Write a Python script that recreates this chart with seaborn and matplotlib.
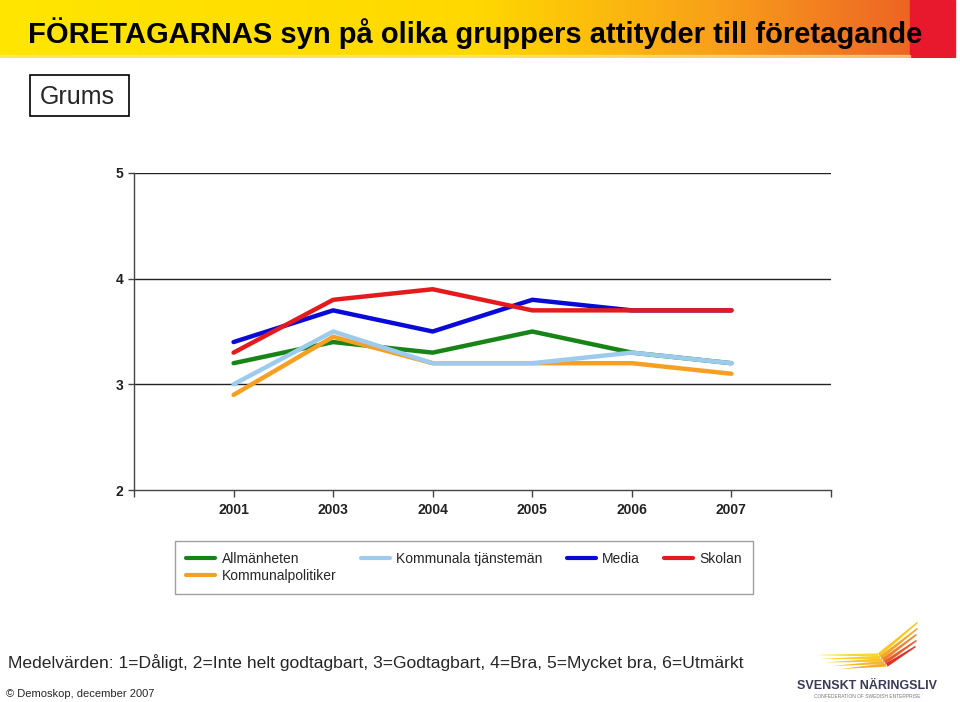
import numpy as np
import pandas as pd
import matplotlib.pyplot as plt
import seaborn as sns
from matplotlib.patches import Rectangle, Polygon

# 年度（カテゴリ）
years = ["2001", "2003", "2004", "2005", "2006", "2007"]

# 各グループの平均値
allmanheten = [3.2, 3.4, 3.3, 3.5, 3.3, 3.2]
kommunalpolitiker = [2.9, 3.45, 3.2, 3.2, 3.2, 3.1]
kommunala_tjm = [3.0, 3.5, 3.2, 3.2, 3.3, 3.2]
media = [3.4, 3.7, 3.5, 3.8, 3.7, 3.7]
skolan = [3.3, 3.8, 3.9, 3.7, 3.7, 3.7]

groups = ["Allmänheten", "Kommunalpolitiker", "Kommunala tjänstemän", "Media", "Skolan"]
colors = ["#188418", "#F5A023", "#9DCBEE", "#0A0AD8", "#E41A1C"]

df = pd.DataFrame({
    "År": years * 5,
    "Grupp": np.repeat(groups, len(years)),
    "Värde": allmanheten + kommunalpolitiker + kommunala_tjm + media + skolan,
})

sns.set_theme(style="white")
plt.rcParams["font.family"] = ["Liberation Sans", "DejaVu Sans"]

fig = plt.figure(figsize=(9.6, 7.02), dpi=100)

# ヘッダーのグラデーション
hax = fig.add_axes([0, 1 - 58 / 702, 1, 58 / 702])
grad = np.linspace(0, 1, 512)
cmap = plt.matplotlib.colors.LinearSegmentedColormap.from_list(
    "hdr", [(0, "#FFE600"), (0.5, "#FFD800"), (0.75, "#F9A019"), (0.92, "#EF6E24"), (1, "#EA5A22")]
)
hax.imshow(grad[None, :], aspect="auto", cmap=cmap, extent=[0, 955, 0, 58])
hax.add_patch(Rectangle((910, 0), 45, 58, color="#E8192C"))
hax.add_patch(Rectangle((0, 0), 910, 3, color="#FFE98A", alpha=0.6))
hax.set_xlim(0, 960)
hax.set_ylim(0, 58)
hax.axis("off")
fig.text(28 / 960, 1 - 33 / 702, "FÖRETAGARNAS syn på olika gruppers attityder till företagande",
         fontsize=21, fontweight="bold", va="center", ha="left", color="black")

# Grums ボックス
fig.add_artist(Rectangle((30 / 960, 1 - 116 / 702), 99 / 960, 41 / 702,
                         transform=fig.transFigure, fc="white", ec="black", lw=1.2))
fig.text(40 / 960, 1 - 97 / 702, "Grums", fontsize=18, va="center", ha="left")

# 折れ線グラフ
ax = fig.add_axes([134 / 960, 1 - 490 / 702, 697 / 960, 317 / 702])
sns.lineplot(
    data=df, x="År", y="Värde", hue="Grupp", hue_order=groups,
    palette=colors, linewidth=3.2, ax=ax, sort=False, legend=False
)
ax.set_xlim(-1, 6)
ax.set_ylim(2, 5)
ax.set_xticks(range(-1, 7))
ax.set_xticklabels([""] + years + [""])
ax.set_yticks([2, 3, 4, 5])
ax.set_yticklabels(["2", "3", "4", "5"])
ax.set_xlabel("")
ax.set_ylabel("")
for y in [3, 4, 5]:
    ax.axhline(y, color="#222222", lw=1.0, zorder=0)
for s in ["top", "right"]:
    ax.spines[s].set_visible(False)
for s in ["left", "bottom"]:
    ax.spines[s].set_color("#444444")
    ax.spines[s].set_linewidth(1.0)
ax.tick_params(axis="x", direction="out", length=5, width=1, color="#444444",
               labelsize=10, pad=4, bottom=True)
ax.tick_params(axis="y", direction="out", length=4, width=1, color="#444444",
               labelsize=10, left=True)
for lab in ax.get_yticklabels() + ax.get_xticklabels():
    lab.set_fontweight("bold")
    lab.set_color("#222222")

# 凡例
handles = [plt.Line2D([], [], color=c, lw=3) for c in colors]
leg = fig.legend(
    handles, groups, ncol=4, loc="upper left",
    bbox_to_anchor=(175 / 960, 1 - 541 / 702), borderaxespad=0, fontsize=10,
    frameon=True, fancybox=False, edgecolor="#888888",
    handlelength=2.1, handletextpad=0.45, columnspacing=1.75,
    borderpad=0.8, labelspacing=0.22,
)
leg.get_frame().set_linewidth(1.0)

# 下部の説明
fig.text(8 / 960, 1 - 663 / 702,
         "Medelvärden: 1=Dåligt, 2=Inte helt godtagbart, 3=Godtagbart, 4=Bra, 5=Mycket bra, 6=Utmärkt",
         fontsize=12.6, va="center", ha="left")
fig.text(6 / 960, 1 - 694 / 702, "© Demoskop, december 2007", fontsize=8, va="center", ha="left")

# ロゴ（簡易）
lax = fig.add_axes([790 / 960, 0, 170 / 960, 90 / 702])
lax.set_xlim(0, 170)
lax.set_ylim(0, 90)
lax.axis("off")
left_cols = ["#FAD82A", "#F9CF26", "#F8C426", "#F7B82A", "#F6AC2C"]
right_cols = ["#F9C623", "#F6A52B", "#F2812E", "#EC5A2C", "#E0302A"]
lefts = [(25, 47), (30, 43), (35, 39.5), (42, 36), (50, 33)]
joints = [(88, 47), (90, 44.5), (92, 42), (94, 39.5), (96, 37)]
rights = [(128, 80), (128, 74), (127, 68), (127, 62), (126, 56)]
w = 3.4
for i in range(5):
    lx, ly = lefts[i]
    jx, jy = joints[i]
    rx, ry = rights[i]
    lax.add_patch(Polygon([[lx, ly], [jx, jy + w / 2], [jx, jy - w / 2]],
                          closed=True, color=left_cols[i], lw=0))
    lax.add_patch(Polygon([[jx, jy + w / 2], [rx - 1, ry], [rx, ry - 1], [jx + 1.5, jy - w / 2]],
                          closed=True, color=right_cols[i], lw=0))
lax.text(77, 16, "SVENSKT NÄRINGSLIV", fontsize=9, fontweight="bold",
         color="#3A3A5A", ha="center", va="center")
lax.text(77, 6, "CONFEDERATION OF SWEDISH ENTERPRISE", fontsize=3.5,
         color="#777777", ha="center", va="center")

plt.savefig("out.png", dpi=100)
